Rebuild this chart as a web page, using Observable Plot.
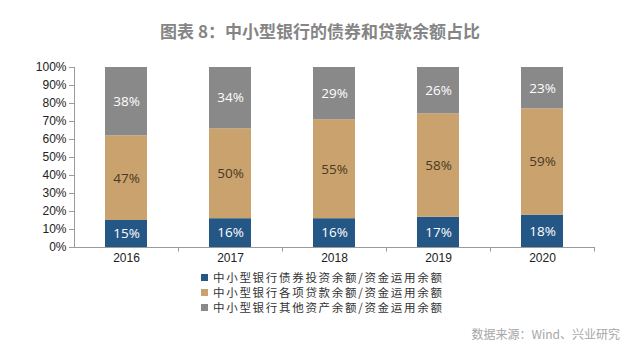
<!DOCTYPE html>
<html>
<head>
<meta charset="utf-8">
<script src="https://cdn.jsdelivr.net/npm/d3@7"></script>
<script src="https://cdn.jsdelivr.net/npm/@observablehq/plot@0.6"></script>
<style>
  html, body { margin: 0; padding: 0; background: #fff; }
  #wrap { position: relative; width: 640px; height: 364px; overflow: hidden; font-family: "Noto Sans CJK SC", "Liberation Sans", sans-serif; }
  #title { position: absolute; left: 0; width: 640px; top: 18px; text-align: center; font-size: 17px; font-weight: bold; color: #858585; }
  #legend { position: absolute; left: 201px; top: 270px; font-size: 11.5px; letter-spacing: 1.7px; color: #333; line-height: 15px; }
  #legend .sw { display: inline-block; width: 7px; height: 7px; margin-right: 5px; vertical-align: 1px; }
  #caption { position: absolute; right: 20px; top: 325px; font-size: 12px; color: #a6a6a6; }
  #chart { position: absolute; left: 0; top: 0; }
</style>
</head>
<body>
<div id="wrap">
  <div id="chart"></div>
  <div id="title"></div>
  <div id="legend"></div>
  <div id="caption"></div>
</div>
<script>
const titleText = "图表 8：中小型银行的债券和贷款余额占比";
const captionText = "数据来源：Wind、兴业研究";
const years = ["2016", "2017", "2018", "2019", "2020"];
const seriesNames = [
  "中小型银行债券投资余额/资金运用余额",
  "中小型银行各项贷款余额/资金运用余额",
  "中小型银行其他资产余额/资金运用余额"
];
const bond = [15, 16, 16, 17, 18];
const loan = [47, 50, 55, 58, 59];
const other = [38, 34, 29, 26, 23];
const colors = ["#245786", "#c9a26d", "#898989"];
const textColors = ["#ffffff", "#4a3a26", "#ffffff"];
const yTicks = [0, 0.1, 0.2, 0.3, 0.4, 0.5, 0.6, 0.7, 0.8, 0.9, 1.0];
const yTickLabels = ["0%", "10%", "20%", "30%", "40%", "50%", "60%", "70%", "80%", "90%", "100%"];

const valuesBySeries = [bond, loan, other];
const rows = [];
seriesNames.forEach((s, si) => {
  years.forEach((y, yi) => {
    rows.push({ year: y, series: s, si, value: valuesBySeries[si][yi] });
  });
});

document.getElementById("title").textContent = titleText;
document.getElementById("caption").textContent = captionText;
const legend = document.getElementById("legend");
seriesNames.forEach((s, i) => {
  const row = document.createElement("div");
  const sw = document.createElement("span");
  sw.className = "sw";
  sw.style.background = colors[i];
  row.appendChild(sw);
  row.appendChild(document.createTextNode(s));
  legend.appendChild(row);
});

const stackOpts = { offset: "normalize", order: seriesNames };
const labelFont = { fontSize: 13.5, fontFamily: "'Open Sans', sans-serif" };

const plot = Plot.plot({
  width: 640,
  height: 364,
  marginLeft: 74,
  marginRight: 46,
  marginTop: 67,
  marginBottom: 117,
  style: { fontFamily: "'Liberation Sans', Arial, sans-serif", fontSize: "12px", color: "#222", overflow: "visible" },
  x: { domain: years, padding: 0, label: null },
  y: { domain: [0, 1], label: null },
  color: { domain: seriesNames, range: colors },
  marks: [
    Plot.barY(rows, Plot.stackY({ ...stackOpts, x: "year", y: "value", z: "series", fill: "series", insetLeft: 31, insetRight: 31 })),
    Plot.text(rows, Plot.stackY({ ...stackOpts, x: "year", y: "value", z: "series", text: d => d.si !== 1 ? d.value + "%" : "", fill: "#ffffff", ...labelFont })),
    Plot.text(rows, Plot.stackY({ ...stackOpts, x: "year", y: "value", z: "series", text: d => d.si === 1 ? d.value + "%" : "", fill: textColors[1], ...labelFont })),
    Plot.ruleY([0], { stroke: "#9a9a9a" }),
    Plot.ruleX([years[0]], { dx: -52, y1: 0, y2: 1, stroke: "#9a9a9a" }),
    Plot.ruleX(years, { dx: 52, y1: 0, y2: -0.025, stroke: "#9a9a9a" }),
    Plot.axisY({ ticks: yTicks, tickFormat: (d, i) => yTickLabels[i], tickSize: 5, stroke: "#9a9a9a", tickPadding: 3, fontSize: 12, label: null }),
    Plot.axisX({ tickSize: 0, tickPadding: 6, fontSize: 12, label: null })
  ]
});
document.getElementById("chart").appendChild(plot);
</script>
</body>
</html>
